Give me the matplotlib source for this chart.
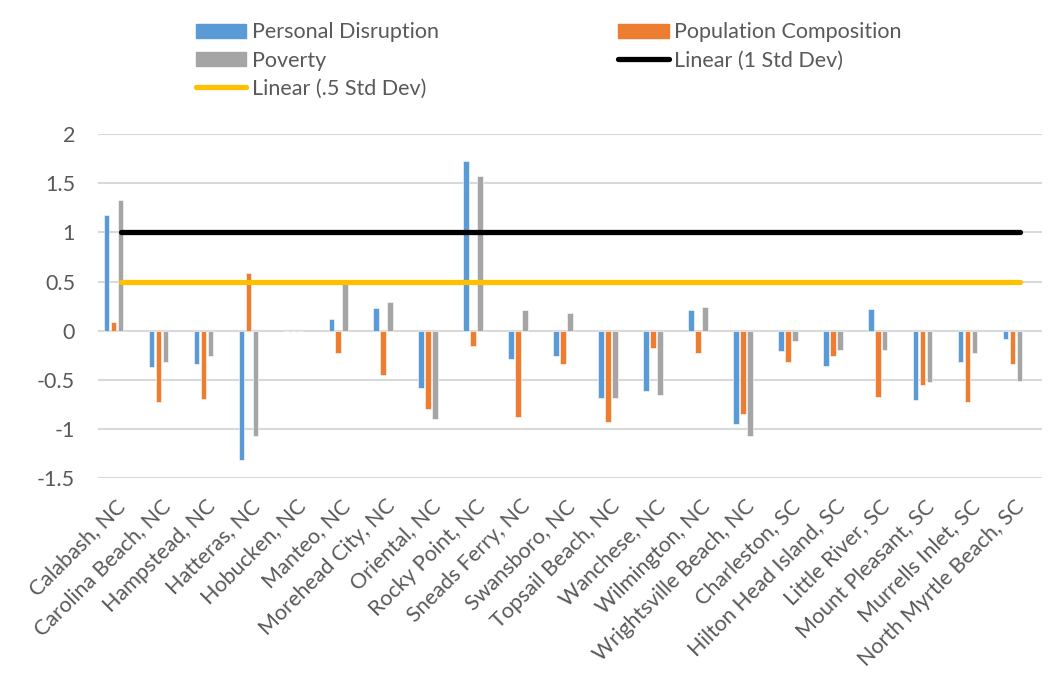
import numpy as np
import matplotlib
matplotlib.use("Agg")
import matplotlib.pyplot as plt
import matplotlib.transforms as mtransforms
from matplotlib.patches import Patch
from matplotlib.lines import Line2D

plt.rcParams['font.family'] = ['Lato', 'DejaVu Sans']

towns = ["Calabash, NC", "Carolina Beach, NC", "Hampstead, NC", "Hatteras, NC",
         "Hobucken, NC", "Manteo, NC", "Morehead City, NC", "Oriental, NC",
         "Rocky Point, NC", "Sneads Ferry, NC", "Swansboro, NC", "Topsail Beach, NC",
         "Wanchese, NC", "Wilmington, NC", "Wrightsville Beach, NC", "Charleston, SC",
         "Hilton Head Island, SC", "Little River, SC", "Mount Pleasant, SC",
         "Murrells Inlet, SC", "North Myrtle Beach, SC"]

personal_disruption = [1.18, -0.37, -0.335, -1.32, 0.0, 0.12, 0.23, -0.585,
                       1.73, -0.29, -0.26, -0.69, -0.61, 0.21, -0.95, -0.21,
                       -0.36, 0.22, -0.71, -0.32, -0.08]
population_composition = [0.085, -0.73, -0.70, 0.59, 0.0, -0.23, -0.45, -0.80,
                          -0.16, -0.88, -0.335, -0.93, -0.18, -0.23, -0.85, -0.32,
                          -0.26, -0.67, -0.55, -0.73, -0.335]
poverty = [1.33, -0.32, -0.26, -1.07, 0.0, 0.47, 0.29, -0.90,
           1.57, 0.21, 0.18, -0.69, -0.65, 0.24, -1.07, -0.105,
           -0.20, -0.20, -0.52, -0.23, -0.51]
std1 = [1.0] * len(towns)
std_half = [0.5] * len(towns)

blue = '#5B9BD5'
orange = '#ED7D31'
gray = '#A5A5A5'
txt = '#595959'
fs = 15.5

fig = plt.figure(figsize=(10.6, 6.81), dpi=100)
ax = fig.add_axes([0.0925, 0.298, 0.8905, 0.505])

x = np.arange(len(towns))
w = 0.125
ax.bar(x - 0.31, personal_disruption, w, color=blue, edgecolor='white', linewidth=0.4, zorder=2)
ax.bar(x - 0.155, population_composition, w, color=orange, edgecolor='white', linewidth=0.4, zorder=2)
ax.bar(x, poverty, w, color=gray, edgecolor='white', linewidth=0.4, zorder=2)
ax.plot(x, std1, color='black', lw=3.8, solid_capstyle='round', zorder=3)
ax.plot(x, std_half, color='#FFC000', lw=3.8, solid_capstyle='round', zorder=3)

ax.set_xlim(-0.5, len(towns) - 0.5)
ax.set_ylim(-1.5, 2)
ax.set_yticks(np.arange(-1.5, 2.01, 0.5))
ax.set_yticklabels(['-1.5', '-1', '-0.5', '0', '0.5', '1', '1.5', '2'])
ax.yaxis.grid(True, color='#D9D9D9', lw=1.5, zorder=0)
ax.set_axisbelow(True)
for s in ax.spines.values():
    s.set_visible(False)
ax.tick_params(axis='y', length=0, pad=16.5, labelsize=fs, labelcolor=txt)
ax.tick_params(axis='x', length=0, pad=13, labelsize=fs, labelcolor=txt)
ax.set_xticks(x)
ax.set_xticklabels(towns, rotation=45, ha='right', rotation_mode='default')
offset = mtransforms.ScaledTranslation(9 / 100, 0, fig.dpi_scale_trans)
for lab in ax.get_xticklabels():
    lab.set_transform(lab.get_transform() + offset)

handles = [Patch(color=blue), Patch(color=gray),
           Line2D([], [], color='#FFC000', lw=3.8, solid_capstyle='round'),
           Patch(color=orange),
           Line2D([], [], color='black', lw=3.8, solid_capstyle='round')]
labels = ["Personal Disruption", "Poverty", "Linear (.5 Std Dev)",
          "Population Composition", "Linear (1 Std Dev)"]
leg = fig.legend(handles, labels, ncol=2, loc='upper left', bbox_to_anchor=(185 / 1060, 0.983),
                 frameon=False, fontsize=fs, handlelength=2.35, handleheight=0.6,
                 handletextpad=0.25, columnspacing=8.35, labelspacing=0.38, borderpad=0)
for t in leg.get_texts():
    t.set_color(txt)

fig.savefig('out.png', dpi=100, facecolor='white')
